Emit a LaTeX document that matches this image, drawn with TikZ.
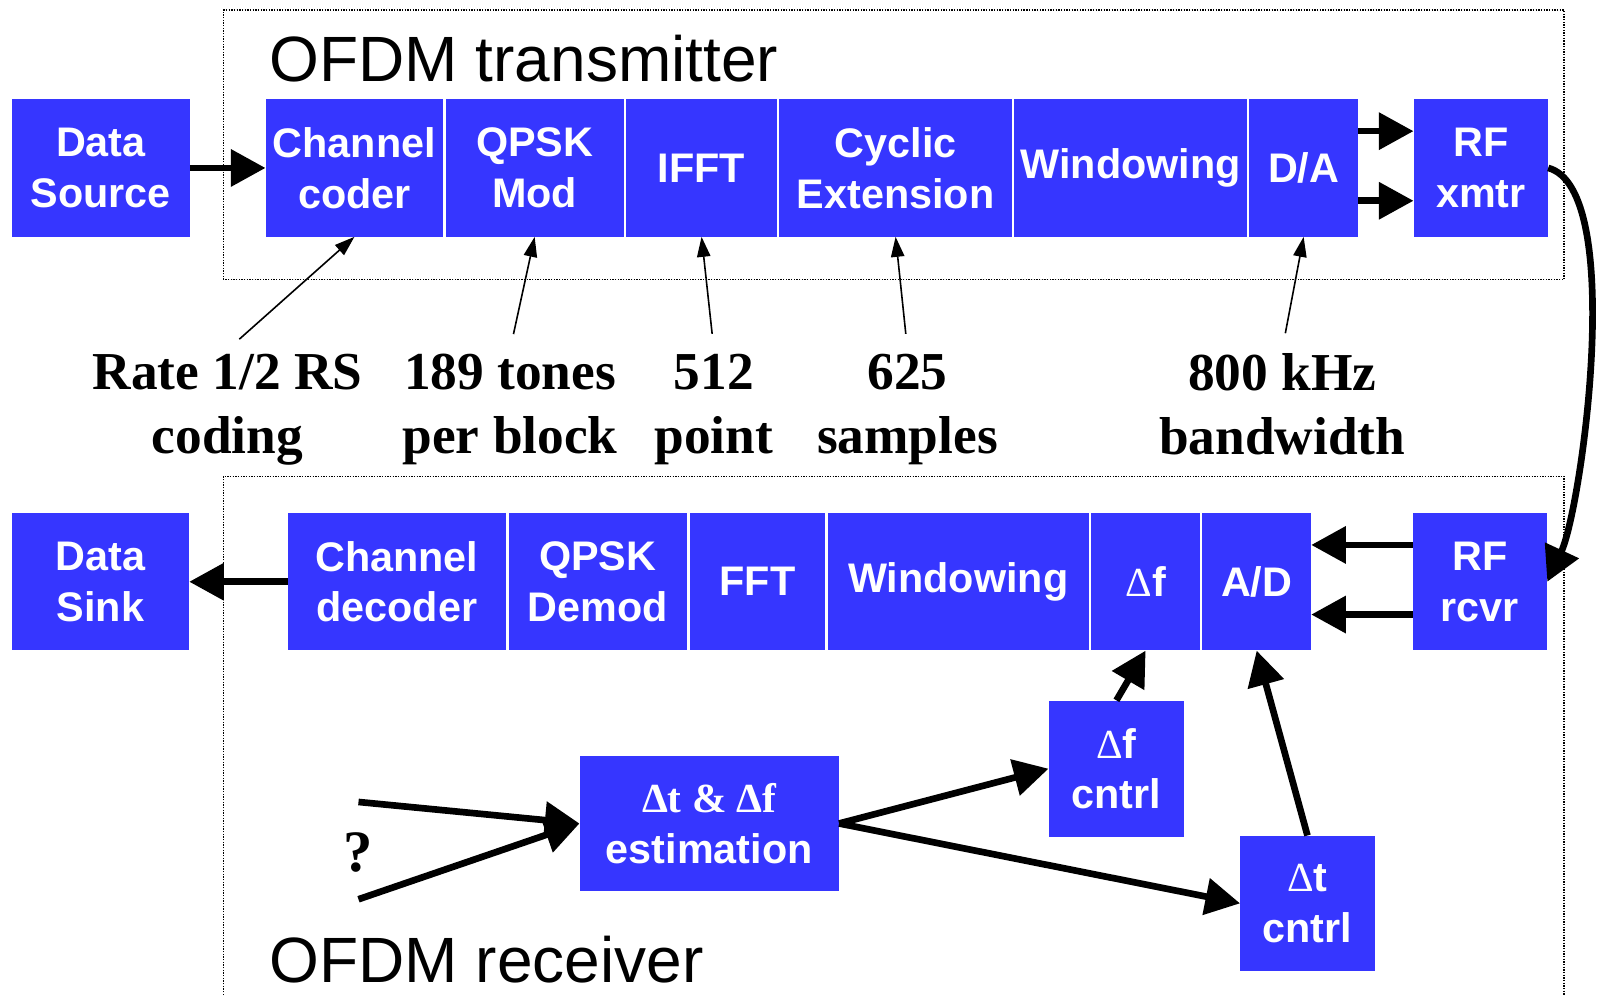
\documentclass[tikz,border=0pt]{standalone}
\usepackage{fontspec}
\setmainfont{Liberation Serif}
\setsansfont{Liberation Sans}
\usepackage{tikz}
\usetikzlibrary{arrows.meta,positioning}
\definecolor{blockblue}{RGB}{54,54,255}
\newcommand{\dlt}{{\rmfamily\mdseries Δ}}
\tikzset{
    %Define style for the blocks
    block/.style={
           rectangle,
           fill=blockblue,
           text=white,
           inner sep=2pt,
           minimum height=102.9pt,
           font=\sffamily\bfseries\fontsize{31}{38}\selectfont,
           align=center},
    %Define style for the notes
    note/.style={
           font=\bfseries\fontsize{40}{48}\selectfont,
           align=center,
           execute at begin node=\strut,
           execute at end node=\strut},
    boxtitle/.style={
           inner sep=0pt,
           anchor=base west,
           font=\sffamily\fontsize{48}{52}\selectfont},
    dotframe/.style={
           line width=1.1pt,
           dash pattern=on 1pt off 1pt},
    % Define arrow styles
    pil/.style={
           -{Triangle[length=26pt,width=27pt]},
           line width=5pt},
    thinpil/.style={
           -{Triangle[length=15pt,width=10pt]},
           line width=1.2pt,
           shorten <=12pt}
}
\begin{document}
\begin{tikzpicture}[x=0.768pt,y=0.768pt,node distance=1.5pt]
\useasboundingbox (0,0) rectangle (1568,972);
 %transmitter
\node[block, minimum width=132.9pt] (src) at (98.5,808) {Data\\Source};
\node[block, minimum width=132.9pt, right=56.8pt of src] (coder) {Channel\\coder};
\node[block, minimum width=133.6pt, right=of coder] (mod) {QPSK\\Mod};
\node[block, minimum width=112.9pt, right=of mod] (ifft) {IFFT};
\node[block, minimum width=174.3pt, right=of ifft] (cyc) {Cyclic\\Extension};
\node[block, minimum width=174.3pt, right=of cyc] (txwin) {Windowing};
\node[block, minimum width=81.4pt, right=of txwin] (da) {D/A};
\node[block, minimum width=100.6pt, right=41.5pt of da] (xmtr) {RF\\xmtr};
\draw[dotframe] (218,699) rectangle (1527,962);
\node[boxtitle] (txtitle) at (263,892) {OFDM transmitter};
 %notes
\node[note] (rate) at (222,568) {Rate 1/2 RS\\coding};
\node[note] (tones) at (498,568) {189 tones\\per block};
\node[note] (pts) at (697,568) {512\\point};
\node[note] (smp) at (886,568) {625\\samples};
\node[note] (bw) at (1252,568) {800 kHz\\bandwidth};
 %receiver
\node[block, minimum width=163.6pt] (dec) at (387.5,404) {Channel\\decoder};
\node[block, minimum width=132.9pt, left=73.7pt of dec] (sink) {Data\\Sink};
\node[block, minimum width=133.6pt, right=of dec] (demod) {QPSK\\Demod};
\node[block, minimum width=101.4pt, right=2pt of demod] (fft) {FFT};
\node[block, minimum width=195.8pt, right=of fft] (rxwin) {Windowing};
\node[block, minimum width=81.4pt, right=of rxwin] (df) {\dlt f};
\node[block, minimum width=81.4pt, right=of df] (ad) {A/D};
\node[block, minimum width=100.6pt, right=76pt of ad] (rcvr) {RF\\rcvr};
\node[block, minimum width=194.3pt, minimum height=101.4pt] (est) at (692.5,168) {{\rmfamily Δt \& Δf}\\estimation};
\node[block, minimum width=101.4pt, minimum height=102.1pt] (dfc) at (1090,221.5) {\dlt f\\cntrl};
\node[block, minimum width=100.6pt, minimum height=101.4pt] (dtc) at (1276.5,90) {\dlt t\\cntrl};
\node[font=\bfseries\fontsize{44}{48}\selectfont] (q) at (350,140) {?};
\coordinate (in1) at (350,189);
\coordinate (in2) at (350,94);
\draw[dotframe] (218,-10) |- (1527,507) -- (1527,-10);
\node[boxtitle] (rxtitle) at (263,13) {OFDM receiver};
 %connectors
\draw[pil] (src.east) -- (coder.west);
\draw[pil] ([yshift=27.6pt]da.east) -- ([yshift=27.6pt]xmtr.west);
\draw[pil] ([yshift=-24.6pt]da.east) -- ([yshift=-24.6pt]xmtr.west);
\draw[pil] (xmtr.east) to[out=-15,in=65,looseness=0.5] (rcvr.east);
\draw[pil] ([yshift=27.6pt]rcvr.west) -- ([yshift=27.6pt]ad.east);
\draw[pil] ([yshift=-24.6pt]rcvr.west) -- ([yshift=-24.6pt]ad.east);
\draw[pil] (dec.west) -- (sink.east);
\draw[pil] (dfc.north) -- (df.south);
\draw[pil] (dtc.north) -- (ad.south);
\draw[pil] (est.east) -- (dfc.west);
\draw[pil] (est.east) -- (dtc.west);
\draw[pil] (in1) -- (est.west);
\draw[pil] (in2) -- (est.west);
\draw[thinpil] (rate.north) -- (coder.south);
\draw[thinpil] (tones.north) -- (mod.south);
\draw[thinpil] (pts.north) -- (ifft.south);
\draw[thinpil] (smp.north) -- (cyc.south);
\draw[thinpil] (bw.north) -- (da.south);
\end{tikzpicture}
\end{document}
